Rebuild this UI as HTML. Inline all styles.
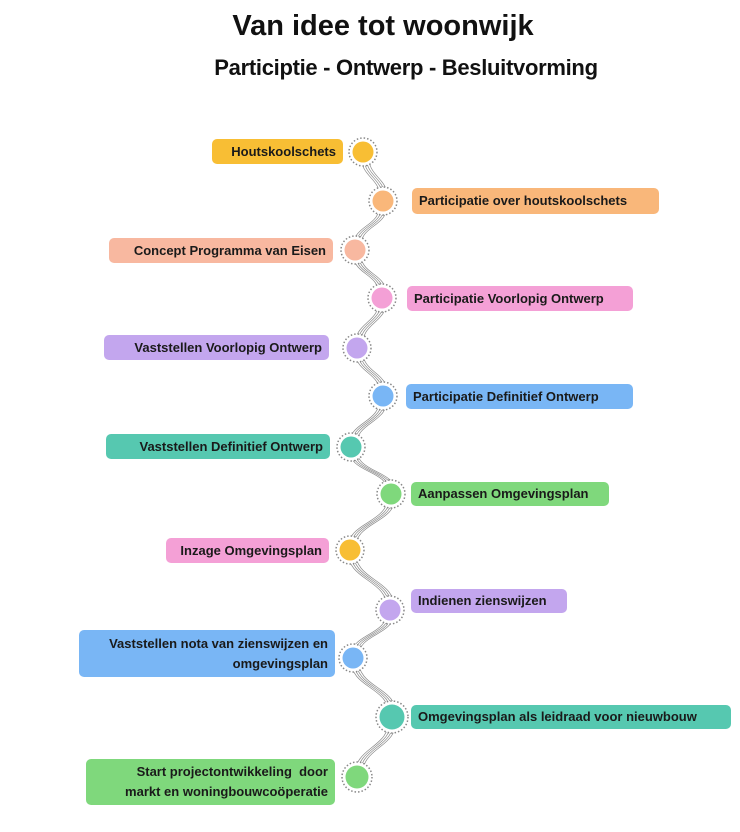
<!DOCTYPE html><html><head><style>
body{margin:0;width:740px;height:832px;background:#fff;position:relative;font-family:"Liberation Sans",sans-serif;overflow:hidden}
.t{position:absolute;font-weight:bold;color:#111;white-space:nowrap}
.l{position:absolute;font-weight:bold;font-size:13px;color:#1a1a1a;border-radius:5px;box-sizing:border-box;padding:0 7px;display:flex;align-items:center;line-height:20px;white-space:nowrap}
.r{justify-content:flex-end;text-align:right}
</style></head><body>
<div class="t" style="left:0;width:766px;text-align:center;top:10px;font-size:29px">Van idee tot woonwijk</div>
<div class="t" style="left:198px;width:416px;text-align:center;top:55px;font-size:22px;letter-spacing:-0.3px">Participtie - Ontwerp - Besluitvorming</div>
<svg width="740" height="832" style="position:absolute;left:0;top:0">
<g fill="none" stroke="#8a8a8a" stroke-width="0.7">
<g id="c">
<path d="M363 152 C363 180 383 175 383 201"/><path d="M383 201 C383 230 355 222 355 250"/><path d="M355 250 C355 278 382 270 382 298"/><path d="M382 298 C382 325 357 320 357 348"/><path d="M357 348 C357 375 383 370 383 396"/><path d="M383 396 C383 425 351 420 351 447"/><path d="M351 447 C351 475 391 468 391 494"/><path d="M391 494 C391 525 350 520 350 550"/><path d="M350 550 C350 582 390 578 390 610"/><path d="M390 610 C390 637 353 632 353 658"/><path d="M353 658 C353 690 392 685 392 717"/><path d="M392 717 C392 750 357 745 357 777"/>
</g>
<use href="#c" x="2.5"/><use href="#c" x="5"/><use href="#c" x="-2.5"/>
</g>
<g stroke="#888" stroke-width="1.5" stroke-dasharray="1.5 2" fill="#fff">
<circle cx="363" cy="152" r="14"/><circle cx="383" cy="201" r="14"/><circle cx="355" cy="250" r="14"/><circle cx="382" cy="298" r="14"/><circle cx="357" cy="348" r="14"/><circle cx="383" cy="396" r="14"/><circle cx="351" cy="447" r="14"/><circle cx="391" cy="494" r="14"/><circle cx="350" cy="550" r="14"/><circle cx="390" cy="610" r="14"/><circle cx="353" cy="658" r="14"/><circle cx="392" cy="717" r="16"/><circle cx="357" cy="777" r="15"/>
</g>
<circle cx="363" cy="152" r="10.5" fill="#f8be34"/><circle cx="383" cy="201" r="10.5" fill="#f9b77a"/><circle cx="355" cy="250" r="10.5" fill="#f8b8a0"/><circle cx="382" cy="298" r="10.5" fill="#f4a0d6"/><circle cx="357" cy="348" r="10.5" fill="#c3a6ee"/><circle cx="383" cy="396" r="10.5" fill="#79b6f5"/><circle cx="351" cy="447" r="10.5" fill="#56c8b0"/><circle cx="391" cy="494" r="10.5" fill="#7fd87c"/><circle cx="350" cy="550" r="10.5" fill="#f8be34"/><circle cx="390" cy="610" r="10.5" fill="#c3a6ee"/><circle cx="353" cy="658" r="10.5" fill="#79b6f5"/><circle cx="392" cy="717" r="12.5" fill="#56c8b0"/><circle cx="357" cy="777" r="11.5" fill="#7fd87c"/>
</svg>
<div class="l r" style="left:212px;top:139px;width:131px;height:25px;background:#f8be34">Houtskoolschets</div>
<div class="l" style="left:412px;top:188px;width:247px;height:26px;background:#f9b77a">Participatie over houtskoolschets</div>
<div class="l r" style="left:109px;top:238px;width:224px;height:25px;background:#f8b8a0">Concept Programma van Eisen</div>
<div class="l" style="left:407px;top:286px;width:226px;height:25px;background:#f4a0d6">Participatie Voorlopig Ontwerp</div>
<div class="l r" style="left:104px;top:335px;width:225px;height:25px;background:#c3a6ee">Vaststellen Voorlopig Ontwerp</div>
<div class="l" style="left:406px;top:384px;width:227px;height:25px;background:#79b6f5">Participatie Definitief Ontwerp</div>
<div class="l r" style="left:106px;top:434px;width:224px;height:25px;background:#56c8b0">Vaststellen Definitief Ontwerp</div>
<div class="l" style="left:411px;top:482px;width:198px;height:24px;background:#7fd87c">Aanpassen Omgevingsplan</div>
<div class="l r" style="left:166px;top:538px;width:163px;height:25px;background:#f4a0d6">Inzage Omgevingsplan</div>
<div class="l" style="left:411px;top:589px;width:156px;height:24px;background:#c3a6ee">Indienen zienswijzen</div>
<div class="l r" style="left:79px;top:630px;width:256px;height:47px;background:#79b6f5">Vaststellen nota van zienswijzen en<br>omgevingsplan</div>
<div class="l" style="left:411px;top:705px;width:320px;height:24px;background:#56c8b0">Omgevingsplan als leidraad voor nieuwbouw</div>
<div class="l r" style="left:86px;top:759px;width:249px;height:46px;background:#7fd87c">Start projectontwikkeling&nbsp; door<br>markt en woningbouwcoöperatie</div>
</body></html>
